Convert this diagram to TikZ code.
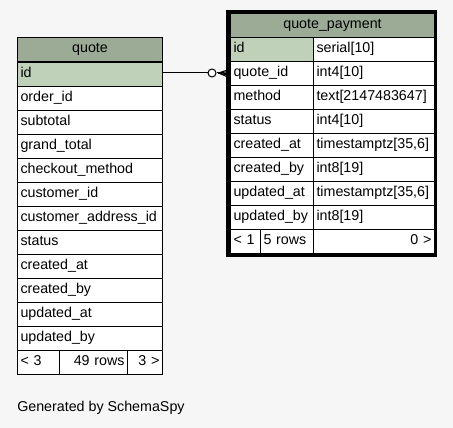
\documentclass[tikz,border=0pt]{standalone}
\usepackage{fontspec}
\setmainfont{Liberation Sans}
\usetikzlibrary{calc}
\definecolor{bg}{RGB}{246,246,246}
\definecolor{hdr}{RGB}{155,171,150}
\definecolor{pk}{RGB}{191,209,185}
\begin{document}
\begin{tikzpicture}[x=0.75pt,y=-0.75pt,
  cell/.style={draw=black, line width=0.75pt, fill=white, anchor=north west,
    minimum height=18pt, inner xsep=2.25pt, inner ysep=0pt,
    text height=7.6pt, text depth=2.4pt,
    font=\fontsize{10.7}{12}\selectfont, align=left},
  hcell/.style={cell, fill=hdr, align=center},
  kcell/.style={cell, fill=pk},
  rcell/.style={cell, align=right},
  fk/.style={line width=0.75pt}]
\fill[bg] (0,0) rectangle (453,428);
\useasboundingbox (0,0) rectangle (453,428);
% quote table
\node[hcell, text width=104.25pt] (q0) at (17,37) {quote};
\node[kcell, text width=104.25pt] (q1) at (17,62) {id};
\foreach \t [count=\i from 2] in {order\_id,subtotal,grand\_total,checkout\_method,customer\_id,customer\_address\_id,status,created\_at,created\_by,updated\_at,updated\_by}
  \node[cell, text width=104.25pt] (q\i) at (17,{38+24*\i}) {\t};
\node[cell, text width=27pt] (qf1) at (17,350) {< 3};
\node[rcell, text width=46.5pt] (qf2) at (59,350) {49 rows};
\node[rcell, text width=21.75pt] (qf3) at (127,350) {3 >};
% quote_payment table
\node[hcell, text width=148.5pt] (p0) at (230,13) {quote\_payment};
\node[kcell, text width=57.75pt] (p1) at (230,37) {id};
\node[cell, text width=86.25pt] (t1) at (313,37) {serial[10]};
\foreach \a/\b [count=\i from 2] in {quote\_id/int4[10],method/text[2147483647],status/int4[10],created\_at/{timestamptz[35,6]},created\_by/int8[19],updated\_at/{timestamptz[35,6]},updated\_by/int8[19]}
{
  \node[cell, text width=57.75pt] (p\i) at (230,{13+24*\i}) {\a};
  \node[cell, text width=86.25pt] (t\i) at (313,{13+24*\i}) {\b};
}
\node[cell, text width=18pt] (pf1) at (230,229) {< 1};
\node[cell, text width=35.25pt] (pf2) at (260,229) {5 rows};
\node[rcell, text width=86.25pt] (pf3) at (313,229) {0 >};
\draw[line width=2.6pt] (228,11.7) rectangle (435.7,255);
% relationship
\node[circle, draw, fk, fill=white, minimum size=6pt, inner sep=0pt] (o) at (212,73) {};
\coordinate (cf) at (218.5,73);
\draw[fk] (q1.east |- o) -- (o.west);
\draw[fk] (o.east) -- (cf);
\draw[fk] (cf) -- ($(p2.west)+(-1,-4)$);
\draw[fk] (cf) -- ($(p2.west)+(-1,-2)$);
\draw[fk] (cf) -- ($(p2.west)+(-1,0)$);
\draw[fk] (cf) -- ($(p2.west)+(-1,2)$);
\draw[fk] (cf) -- ($(p2.west)+(-1,4)$);
\node[anchor=west, inner sep=0pt, font=\fontsize{10.7}{12}\selectfont] (gen) at (17,408) {Generated by SchemaSpy};
\end{tikzpicture}
\end{document}
